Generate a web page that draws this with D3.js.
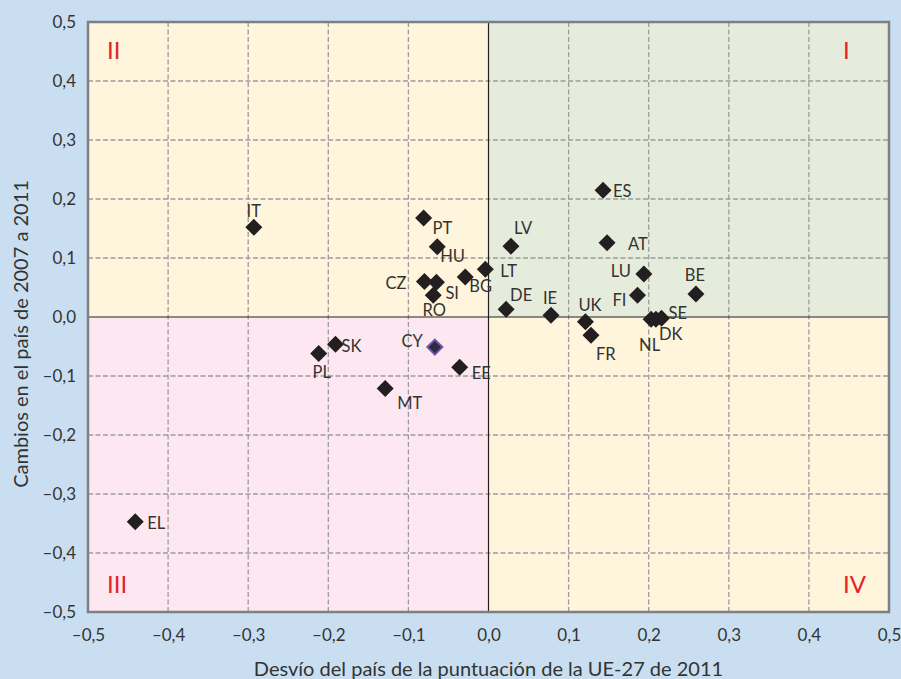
<!DOCTYPE html>
<html>
<head>
<meta charset="utf-8">
<script src="https://cdn.jsdelivr.net/npm/d3@7/dist/d3.min.js"></script>
<style>
  html, body { margin: 0; padding: 0; background: #c9dff1; }
  svg { display: block; font-family: Lato, "Open Sans", sans-serif; }
</style>
</head>
<body>
<svg id="chart" width="901" height="679"></svg>
<script>
// ---- Data ----
const countries = ["IT","PT","HU","CZ","SI","RO","BG","LT","LV","DE","IE","UK","FR","ES","AT","LU","FI","BE","NL","DK","SE","PL","SK","CY","EE","MT","EL"];
const deviation2011 = [-0.293,-0.081,-0.064,-0.080,-0.065,-0.069,-0.029,-0.004,0.028,0.022,0.078,0.121,0.128,0.143,0.148,0.194,0.186,0.259,0.203,0.209,0.216,-0.212,-0.191,-0.067,-0.036,-0.129,-0.441];
const change2007to2011 = [0.152,0.168,0.119,0.060,0.059,0.037,0.068,0.081,0.120,0.013,0.003,-0.008,-0.031,0.215,0.126,0.073,0.037,0.039,-0.004,-0.004,-0.002,-0.062,-0.046,-0.051,-0.085,-0.121,-0.347];
const highlighted = ["CY"];
const xTicks = [-0.5,-0.4,-0.3,-0.2,-0.1,0,0.1,0.2,0.3,0.4,0.5];
const yTicks = [-0.5,-0.4,-0.3,-0.2,-0.1,0,0.1,0.2,0.3,0.4,0.5];
const quadrantNames = ["I","II","III","IV"];
const xTitle = "Desvío del país de la puntuación de la UE-27 de 2011";
const yTitle = "Cambios en el país de 2007 a 2011";

// ---- Label placement (anchor, dx, dy) ----
const labelPlacement = {
  IT:["middle",0,-10], PT:["start",9,16], HU:["start",3,15], CZ:["end",-18,7],
  SI:["start",9,17], RO:["middle",1,21], BG:["start",4,15], LT:["start",15,8],
  LV:["start",3,-12], DE:["start",4,-8], IE:["middle",-1,-11], UK:["start",-7,-11],
  FR:["start",5,25], ES:["start",10,7], AT:["start",21,7], LU:["end",-13,3],
  FI:["end",-11,11], BE:["middle",-1,-13], NL:["start",-12,32], DK:["start",3,21],
  SE:["start",7,1], PL:["middle",3,24], SK:["start",6,8], CY:["end",-12,0],
  EE:["start",12,12], MT:["start",12,21], EL:["start",12,7]
};

const data = countries.map((c,i)=>({c, x:deviation2011[i], y:change2007to2011[i]}));

const svg = d3.select("#chart");
const pLeft = 88, pRight = 889, pTop = 22, pBottom = 612;
const x = d3.scaleLinear().domain([-0.5,0.5]).range([pLeft,pRight]);
const y = d3.scaleLinear().domain([-0.5,0.5]).range([pBottom,pTop]);

const fmt = v => d3.format(".1f")(v).replace(".",",").replace("−","–").replace("-","–");

// Quadrant backgrounds
const quads = [
  {n:"I",  x0:0, x1:0.5, y0:0, y1:0.5, fill:"#e6ecdb"},
  {n:"II", x0:-0.5, x1:0, y0:0, y1:0.5, fill:"#fef5dc"},
  {n:"III",x0:-0.5, x1:0, y0:-0.5, y1:0, fill:"#fde8f1"},
  {n:"IV", x0:0, x1:0.5, y0:-0.5, y1:0, fill:"#fef5dc"}
];
svg.append("g").selectAll("rect").data(quads).join("rect")
  .attr("x", d=>x(d.x0)).attr("y", d=>y(d.y1))
  .attr("width", d=>x(d.x1)-x(d.x0)).attr("height", d=>y(d.y0)-y(d.y1))
  .attr("fill", d=>d.fill);

// Grid
const grid = svg.append("g").attr("stroke","#9c9c9c").attr("stroke-width",1.3).attr("stroke-dasharray","5,2.5");
grid.selectAll("line.v").data(xTicks.filter(t=>Math.abs(t)>1e-9 && Math.abs(t)<0.5)).join("line")
  .attr("class","v").attr("x1",d=>x(d)).attr("x2",d=>x(d)).attr("y1",pTop).attr("y2",pBottom);
grid.selectAll("line.h").data(yTicks.filter(t=>Math.abs(t)>1e-9 && Math.abs(t)<0.5)).join("line")
  .attr("class","h").attr("y1",d=>y(d)).attr("y2",d=>y(d)).attr("x1",pLeft).attr("x2",pRight);

// Zero lines
svg.append("line").attr("x1",x(0)).attr("x2",x(0)).attr("y1",pTop).attr("y2",pBottom).attr("stroke","#231f20").attr("stroke-width",1.2);
svg.append("line").attr("y1",y(0)).attr("y2",y(0)).attr("x1",pLeft).attr("x2",pRight).attr("stroke","#231f20").attr("stroke-width",1.2);

// Border
svg.append("rect").attr("x",pLeft).attr("y",pTop).attr("width",pRight-pLeft).attr("height",pBottom-pTop)
  .attr("fill","none").attr("stroke","#7d7f82").attr("stroke-width",2.5);

// Axes (ticks)
const xAxis = d3.axisBottom(x).tickValues(xTicks).tickFormat(fmt).tickSize(0).tickPadding(0);
const gx = svg.append("g").attr("transform",`translate(0,${pBottom})`).call(xAxis);
gx.select(".domain").remove();
gx.selectAll("text").attr("y",29).attr("dy",null).attr("font-size",17).attr("fill","#333")
  .attr("font-family","Lato, 'Open Sans', sans-serif");

const yAxis = d3.axisLeft(y).tickValues(yTicks).tickFormat(fmt).tickSize(0).tickPadding(12);
const gy = svg.append("g").attr("transform",`translate(${pLeft},0)`).call(yAxis);
gy.select(".domain").remove();
gy.selectAll("text").attr("font-size",17).attr("fill","#333")
  .attr("font-family","Lato, 'Open Sans', sans-serif");

// Quadrant labels
const qPos = {I:[843,59], II:[107,59], III:[107,593], IV:[843,593]};
svg.append("g").selectAll("text").data(quadrantNames).join("text")
  .attr("x",d=>qPos[d][0]).attr("y",d=>qPos[d][1])
  .attr("font-size",24).attr("fill","#e5232b").text(d=>d);

// Points
const diamond = r => `M0,${-r}L${r},0L0,${r}L${-r},0Z`;
svg.append("g").selectAll("path").data(data).join("path")
  .attr("transform",d=>`translate(${x(d.x)},${y(d.y)})`)
  .attr("d", d=> highlighted.includes(d.c) ? diamond(7.5) : diamond(8.5))
  .attr("fill", d=> highlighted.includes(d.c) ? "#2e2a45" : "#231f20")
  .attr("stroke", d=> highlighted.includes(d.c) ? "#6e56a6" : "none")
  .attr("stroke-width", 2);

// Point labels
svg.append("g").selectAll("text").data(data).join("text")
  .attr("x", d=>x(d.x)+labelPlacement[d.c][1])
  .attr("y", d=>y(d.y)+labelPlacement[d.c][2])
  .attr("text-anchor", d=>labelPlacement[d.c][0])
  .attr("font-size",16.5).attr("fill","#333")
  .text(d=>d.c);

// Axis titles
svg.append("text").attr("x",(pLeft+pRight)/2).attr("y",676).attr("text-anchor","middle")
  .attr("font-size",20).attr("fill","#333").text(xTitle);
svg.append("text").attr("transform","translate(28,334) rotate(-90)").attr("text-anchor","middle")
  .attr("font-size",20).attr("fill","#333").text(yTitle);
</script>
</body>
</html>
